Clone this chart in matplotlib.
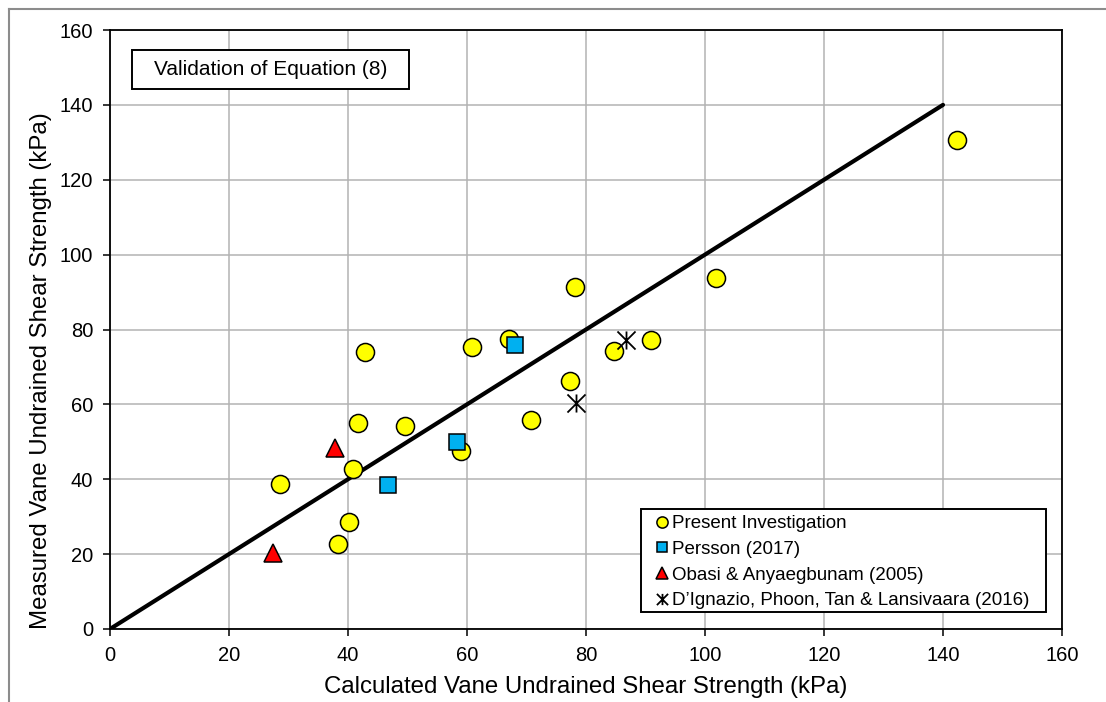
import matplotlib
matplotlib.use("Agg")
import matplotlib.pyplot as plt
from matplotlib.path import Path
from matplotlib.patches import Rectangle
from matplotlib.lines import Line2D

plt.rcParams['font.family'] = ['Liberation Sans', 'DejaVu Sans']

# data (kPa)
present_x = [28.5, 38.4, 40.1, 40.9, 41.6, 42.9, 49.6, 59.0, 60.9, 67.1, 70.7, 77.3, 78.2, 84.7, 90.9, 101.8, 142.3]
present_y = [38.6, 22.6, 28.5, 42.7, 55.1, 74.1, 54.2, 47.6, 75.2, 77.5, 55.8, 66.2, 91.4, 74.3, 77.2, 93.7, 130.6]
persson_x = [46.7, 58.3, 68.1]
persson_y = [38.4, 49.9, 75.8]
obasi_x = [27.4, 37.8]
obasi_y = [20.2, 48.4]
dign_x = [78.3, 86.7]
dign_y = [60.3, 77.2]
line_x = [0, 140]
line_y = [0, 140]

ticks = [0, 20, 40, 60, 80, 100, 120, 140, 160]
labels = ["Present Investigation", "Persson (2017)", "Obasi & Anyaegbunam (2005)",
          "D\u2019Ignazio, Phoon, Tan & Lansivaara (2016)"]

W, H = 1106, 702
AX_L, AX_R, AX_T, AX_B = 110, 1062, 30, 629
fig = plt.figure(figsize=(W / 100, H / 100), dpi=100)
ax = fig.add_axes([AX_L / W, (H - AX_B) / H, (AX_R - AX_L) / W, (AX_B - AX_T) / H])


def axfrac(px, py):
    # pixel position in the image -> axes fraction
    return (px - AX_L) / (AX_R - AX_L), (AX_B - py) / (AX_B - AX_T)


# outer chart frame (gray), runs off the right and bottom
fig.add_artist(Line2D([9 / W, 1.01], [1 - 9 / H, 1 - 9 / H], color='#8c8c8c', lw=1.5))
fig.add_artist(Line2D([9 / W, 9 / W], [-0.01, 1 - 9 / H], color='#8c8c8c', lw=1.5))

ax.set_xlim(0, 160)
ax.set_ylim(0, 160)
ax.set_xticks(ticks)
ax.set_yticks(ticks)
ax.grid(True, color='#b3b3b3', lw=1.1)
ax.set_axisbelow(True)
for s in ax.spines.values():
    s.set_color('black')
    s.set_linewidth(1.3)
ax.tick_params(direction='out', length=5, width=1.1, labelsize=14.5, pad=7)

ax.plot(line_x, line_y, color='black', lw=3.0, solid_capstyle='round', zorder=2)

ax.plot(present_x, present_y, 'o', ms=13, mfc='#ffff00', mec='black', mew=1.1,
        label=labels[0], zorder=3)
ax.plot(persson_x, persson_y, 's', ms=11.5, mfc='#00b0f0', mec='black', mew=1.1,
        label=labels[1], zorder=4)
ax.plot(obasi_x, obasi_y, '^', ms=13, mfc='#ff0000', mec='black', mew=1.1,
        label=labels[2], zorder=4)
star = Path([(-1, -1), (1, 1), (-1, 1), (1, -1), (0, -1), (0, 1)],
            [Path.MOVETO, Path.LINETO, Path.MOVETO, Path.LINETO, Path.MOVETO, Path.LINETO])
ax.plot(dign_x, dign_y, linestyle='none', marker=star, ms=13, mec='black', mew=1.3,
        label=labels[3], zorder=5)

# legend: entries without frame, frame drawn as a plain box
lx0, ly0 = axfrac(640.7, 612.3)
lx1, ly1 = axfrac(1046, 509.3)
ax.add_patch(Rectangle((lx0, ly0), lx1 - lx0, ly1 - ly0, transform=ax.transAxes,
                       facecolor='white', edgecolor='black', lw=1.4, zorder=6))
leg = ax.legend(loc='upper left', bbox_to_anchor=axfrac(654.5, 515), borderaxespad=0,
                fontsize=13.5, markerscale=0.62, handlelength=0.8, handletextpad=0.12,
                labelspacing=0.46, borderpad=0, frameon=False)
leg.set_zorder(7)

# "Validation" label box
bx0, by1 = axfrac(131.7, 50)
bx1, by0 = axfrac(409, 89)
ax.add_patch(Rectangle((bx0, by0), bx1 - bx0, by1 - by0, transform=ax.transAxes,
                       facecolor='white', edgecolor='black', lw=1.4, zorder=6))
ax.text((bx0 + bx1) / 2, (by0 + by1) / 2, "Validation of Equation (8)", transform=ax.transAxes,
        ha='center', va='center', fontsize=15, zorder=7)

ax.set_xlabel("Calculated Vane Undrained Shear Strength (kPa)", fontsize=17.3)
ax.set_ylabel("Measured Vane Undrained Shear Strength (kPa)", fontsize=17.3)
ax.xaxis.set_label_coords(0.5, -0.078)
ax.yaxis.set_label_coords(-0.061, 0.431)

fig.savefig("out.png", dpi=100)
